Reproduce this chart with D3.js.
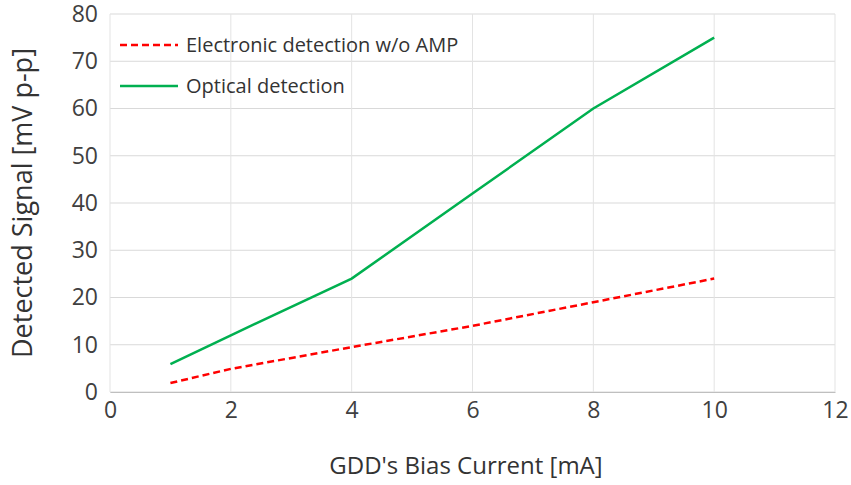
<!DOCTYPE html><html><head><meta charset="utf-8"><script src="https://cdn.jsdelivr.net/npm/d3@7"></script>
<style>body{margin:0;background:#fff}text{font-family:"Open Sans","Liberation Sans",Arial,sans-serif}</style></head><body><svg width="851" height="485"></svg><script>
const xTicks=[0,2,4,6,8,10,12];
const yTicks=[0,10,20,30,40,50,60,70,80];
const biasCurrent=[1,2,4,6,8,10];
const electronic=[1.9,4.9,9.5,14,19,24];
const optical=[5.9,12,24,42,60,75];
const seriesNames=["Electronic detection w/o AMP","Optical detection"];
const svg=d3.select("svg");
const x=d3.scaleLinear().domain([0,12]).range([110,835]);
const y=d3.scaleLinear().domain([0,80]).range([392,14]);
const g=svg.append("g");
yTicks.forEach(t=>g.append("line").attr("x1",x(0)).attr("x2",x(12)).attr("y1",y(t)).attr("y2",y(t)).attr("stroke","#d9d9d9"));
xTicks.forEach(t=>g.append("line").attr("x1",x(t)).attr("x2",x(t)).attr("y1",y(0)).attr("y2",y(80)).attr("stroke","#e3e3e3"));
const xa=svg.append("g").attr("transform","translate(0,392)").call(d3.axisBottom(x).tickValues(xTicks).tickSize(0).tickPadding(10));
xa.select(".domain").attr("stroke","#bfbfbf");xa.selectAll("text").attr("font-size",23).attr("fill","#404040");
const ya=svg.append("g").attr("transform","translate(110,0)").call(d3.axisLeft(y).tickValues(yTicks).tickSize(0).tickPadding(12));
ya.select(".domain").remove();ya.selectAll("text").attr("font-size",23).attr("fill","#404040");
const line=v=>d3.line().x((d,i)=>x(biasCurrent[i])).y(d=>y(d))(v);
svg.append("path").attr("d",line(electronic)).attr("fill","none").attr("stroke","#ff0000").attr("stroke-width",2.5).attr("stroke-dasharray","7,4");
svg.append("path").attr("d",line(optical)).attr("fill","none").attr("stroke","#00b050").attr("stroke-width",2.5);
svg.append("text").attr("x",466).attr("y",474).attr("text-anchor","middle").attr("font-size",24).attr("fill","#333").text("GDD's Bias Current [mA]");
svg.append("text").attr("transform","translate(32,203) rotate(-90)").attr("text-anchor","middle").attr("font-size",27).attr("fill","#333").text("Detected Signal [mV p-p]");
const lg=[[electronic,"#ff0000","7,4",45],[optical,"#00b050",null,86]];
lg.forEach((l,i)=>{svg.append("line").attr("x1",120).attr("x2",178).attr("y1",l[3]).attr("y2",l[3]).attr("stroke",l[1]).attr("stroke-width",2.5).attr("stroke-dasharray",l[2]);
svg.append("text").attr("x",186).attr("y",l[3]+7).attr("font-size",20).attr("fill","#333").text(seriesNames[i]);});
</script></body></html>
